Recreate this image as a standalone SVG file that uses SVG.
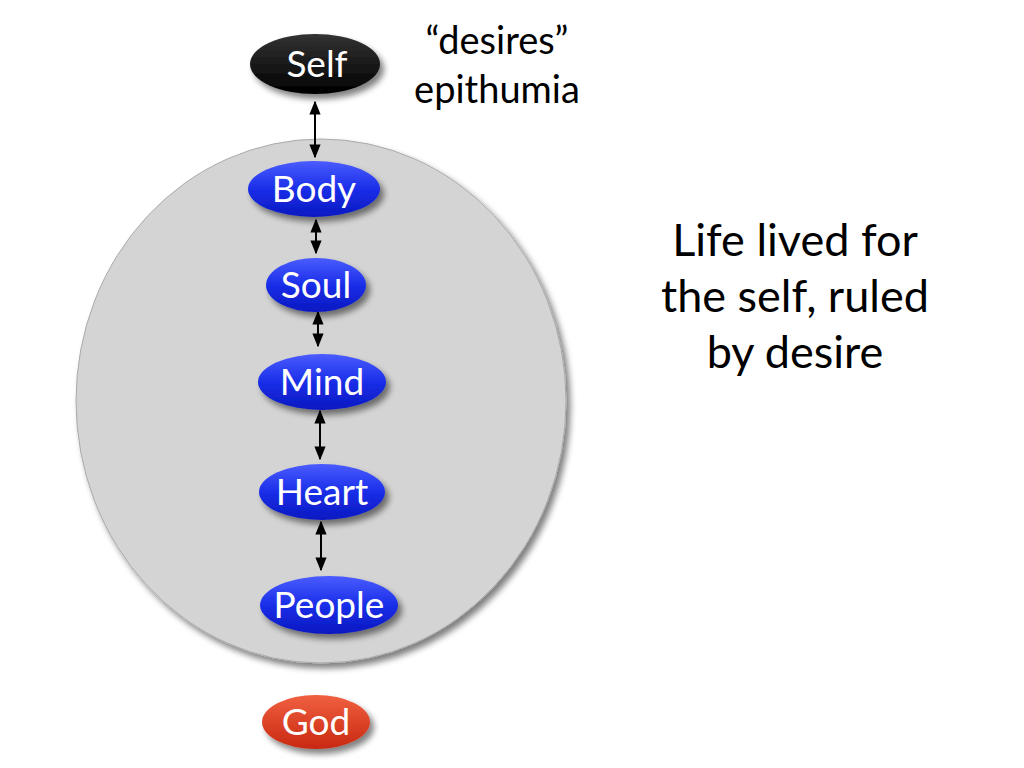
<svg xmlns="http://www.w3.org/2000/svg" width="1024" height="768" viewBox="0 0 1024 768">
<defs>
<linearGradient id="blue" x1="0" y1="0" x2="0" y2="1"><stop offset="0" stop-color="#4a5cff"/><stop offset="0.5" stop-color="#1a2ee8"/><stop offset="1" stop-color="#0a18c0"/></linearGradient>
<linearGradient id="red" x1="0" y1="0" x2="0" y2="1"><stop offset="0" stop-color="#f06040"/><stop offset="1" stop-color="#c82810"/></linearGradient>
<linearGradient id="blk" x1="0" y1="0" x2="0" y2="1"><stop offset="0" stop-color="#333"/><stop offset="1" stop-color="#000"/></linearGradient>
<filter id="sh" x="-20%" y="-20%" width="140%" height="140%"><feGaussianBlur in="SourceAlpha" stdDeviation="3"/><feOffset dx="4" dy="5" result="b"/><feComponentTransfer><feFuncA type="linear" slope="0.5"/></feComponentTransfer><feMerge><feMergeNode/><feMergeNode in="SourceGraphic"/></feMerge></filter>
<marker id="ah" viewBox="0 0 10 10" refX="9" refY="5" markerWidth="7" markerHeight="7" orient="auto-start-reverse"><path d="M0,1 L10,5 L0,9 z" fill="#000"/></marker>
<style>
.n text{font-family:Lato,"Open Sans",sans-serif;font-size:37px;fill:#fff;text-anchor:middle}
.t{font-family:Lato,"Open Sans",sans-serif;fill:#000;text-anchor:middle}
.c line{stroke:#000;stroke-width:2}
</style>
</defs>
<rect width="1024" height="768" fill="#fff"/>
<ellipse cx="321" cy="401" rx="245" ry="262" fill="#d4d4d4" stroke="#aaa" stroke-width="1" filter="url(#sh)"/>
<g class="c">
<line x1="315" y1="102" x2="315" y2="157" marker-start="url(#ah)" marker-end="url(#ah)"/>
<line x1="316" y1="220" x2="316" y2="253" marker-start="url(#ah)" marker-end="url(#ah)"/>
<line x1="318" y1="312" x2="318" y2="346" marker-start="url(#ah)" marker-end="url(#ah)"/>
<line x1="320" y1="411" x2="320" y2="459" marker-start="url(#ah)" marker-end="url(#ah)"/>
<line x1="321" y1="522" x2="321" y2="570" marker-start="url(#ah)" marker-end="url(#ah)"/>
</g>
<g id="self" class="n"><ellipse cx="315" cy="64" rx="65" ry="30" fill="url(#blk)" filter="url(#sh)"/><text x="317" y="77">Self</text></g>
<g id="body" class="n"><ellipse cx="314" cy="189" rx="66" ry="28" fill="url(#blue)" filter="url(#sh)"/><text x="314" y="202">Body</text></g>
<g id="soul" class="n"><ellipse cx="316" cy="285" rx="50" ry="27" fill="url(#blue)" filter="url(#sh)"/><text x="316" y="298">Soul</text></g>
<g id="mind" class="n"><ellipse cx="322" cy="382" rx="64" ry="28" fill="url(#blue)" filter="url(#sh)"/><text x="322" y="395">Mind</text></g>
<g id="heart" class="n"><ellipse cx="322" cy="492" rx="63" ry="28" fill="url(#blue)" filter="url(#sh)"/><text x="322" y="505">Heart</text></g>
<g id="people" class="n"><ellipse cx="329" cy="605" rx="69" ry="29" fill="url(#blue)" filter="url(#sh)"/><text x="329" y="618">People</text></g>
<g id="god" class="n"><ellipse cx="316" cy="722" rx="54" ry="27" fill="url(#red)" filter="url(#sh)"/><text x="316" y="735">God</text></g>
<text class="t" x="497" y="54" font-size="38">“desires”</text>
<text class="t" x="497" y="103" font-size="38">epithumia</text>
<text class="t" x="795" y="256" font-size="45">Life lived for</text>
<text class="t" x="795" y="312" font-size="45">the self, ruled</text>
<text class="t" x="795" y="368" font-size="45">by desire</text>
</svg>
